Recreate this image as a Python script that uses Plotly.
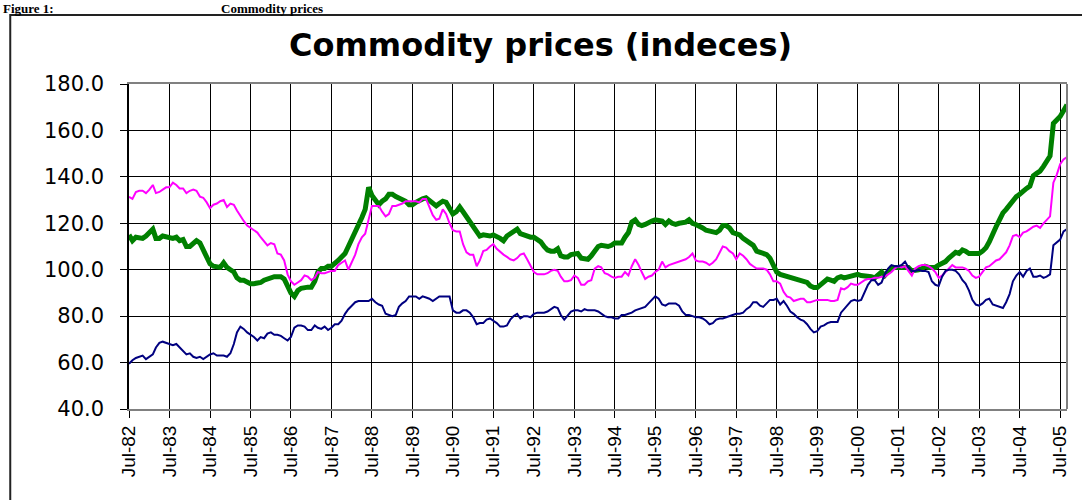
import plotly.graph_objects as go
import pandas as pd

# Monthly observations, July 1982 .. September 2005
months = pd.date_range("1982-07-01", periods=279, freq="MS")

green_index = [
    115, 112.5, 114, 113.5, 113.5, 114.5, 116, 117.5, 113.5, 113.5, 114.5, 114,
    113.5, 113.5, 114, 112.5, 113, 110, 110, 111, 112.5, 111.5, 108.5, 106,
    102.5, 101.5, 101, 101, 103, 101, 100, 99, 96.5, 95.5, 95.5, 94.5,
    94, 94, 94, 94.5, 95.5, 96, 97, 97, 97, 97, 96, 93,
    90, 88.5, 91, 92, 92.5, 92.5, 92.5, 95, 99, 100.5, 100.5, 101.5,
    101.5, 102.5, 104, 105.5, 107, 110, 113, 116, 119.5, 122.5, 126, 135.5,
    132, 129.5, 128, 129.5, 130.5, 132.5, 132.5, 131.5, 131, 130.5, 129.5, 128,
    128, 129, 130, 130.5, 131, 130, 129, 127.5, 128.5, 129.5, 129, 126,
    124, 125, 127, 125, 123, 120.5, 119, 116.5, 114.5, 115, 114.5, 114.5,
    115, 114.5, 113.5, 112.5, 114.5, 115.5, 116.5, 117.5, 115.5, 115, 114, 114,
    114, 113, 112, 110, 108.5, 108, 108, 109, 106, 105.5, 105.5, 106.5,
    107, 107, 105, 104.5, 104.5, 106, 108.5, 110, 110.5, 110, 110, 110.5,
    111.5, 111.5, 111.5, 114, 116, 120.5, 121.5, 119.5, 119, 119.5, 120.5, 121,
    121.5, 121.5, 121, 119.5, 121, 120, 119.5, 120, 120, 120.5, 121.5, 120,
    119.5, 119, 118, 117, 116.5, 116, 116, 117, 119, 119, 118, 116,
    115.5, 115, 113.5, 112.5, 111.5, 110.5, 108, 107.5, 107, 106.5, 105, 102,
    99, 98, 97.5, 97.5, 97, 96.5, 96, 95.5, 95, 94.5, 93, 92.3,
    92.3, 93.5, 94.5, 96, 95.5, 95, 96.5, 97, 96.5, 97, 97.5, 98,
    98, 97.5, 97.5, 97.5, 97, 96.5, 98, 99, 97.5, 99, 101, 101,
    101, 101, 101.5, 101, 99.5, 99.5, 100, 100.5, 101.5, 101, 101, 101,
    102, 102.5, 103.5, 105, 106.5, 107.5, 107, 108.5, 108, 107, 107, 107,
    107, 108, 109.5, 112, 116, 118.5, 121.5, 124.5, 126, 128, 130, 131.5,
    132.5, 134, 135, 136, 140.5, 141.5, 142.5, 144.5, 146.5, 149, 163, 164.5,
    166, 168.5, 171,
]

magenta_index = [
    131.4, 130.5, 133.5, 134, 134, 133, 134.5, 136.5, 133, 133.5, 134.5, 135.5,
    135.5, 137.5, 136.5, 135, 135, 133, 134, 134.5, 134, 131.5, 131, 129,
    126.5, 128, 128.5, 129.5, 130, 127, 128.5, 128, 125.5, 123, 121, 119,
    118, 117, 116, 114, 112, 110.5, 111.5, 111, 107, 106.5, 104, 98,
    95, 93.5, 94.5, 95.5, 97.5, 97, 95.5, 96.5, 99, 98.5, 98.5, 99,
    99.5, 99.5, 102, 103, 104, 100, 103.5, 106.5, 111, 114, 115.5, 121,
    127.5, 127.5, 127.5, 125, 123, 124, 127.5, 127.5, 128, 128.5, 129.5, 129.5,
    129.5, 129.5, 129, 130.5, 130.5, 127, 123.5, 121.5, 122, 126, 124, 120,
    117, 116.5, 116.5, 111, 107.5, 106.5, 106.5, 101.5, 104, 108, 108.5, 110,
    111, 109, 107.5, 106.5, 105.5, 104.5, 104, 105, 106.5, 107, 104.5, 102,
    99, 98, 98, 98, 98.5, 99.5, 100, 99.5, 97, 95, 95, 95.5,
    97.5, 96.5, 93.5, 93.5, 95, 95.5, 100.5, 101.5, 101, 98.5, 98, 97,
    96.5, 97, 97, 99, 97.5, 101.5, 104.5, 102, 99, 96, 97, 97.5,
    99, 100, 103.5, 101, 102, 102.5, 103, 103.5, 104, 104.5, 105.5, 107,
    104, 103.5, 103.5, 103, 102, 103, 104.5, 107.5, 110, 109.5, 108, 107,
    104.5, 107, 106, 104.5, 102.5, 101.5, 100.5, 100.5, 100.5, 100, 98, 95,
    95, 94, 90.5, 88.5, 88, 86.5, 87, 87.5, 87.5, 86, 86, 86.5,
    87, 87, 87, 87, 86.5, 86.5, 87, 92, 91.5, 92.5, 94, 93.5,
    93.5, 94.5, 95.5, 96, 96, 96.5, 96.5, 97, 97, 98, 99, 100.5,
    101.5, 101, 101.5, 99.5, 97.5, 100.5, 101.5, 102, 102, 101.5, 100.5, 99,
    96.5, 97.5, 99, 100.5, 102, 101, 101, 101, 100.5, 99.5, 97.5, 96.5,
    97, 99, 101, 101.5, 103, 104, 104.5, 106, 107.5, 110.5, 114.5, 115,
    114, 116, 116.5, 117.5, 118.5, 119, 118, 120, 121.5, 123, 137.5, 141,
    145.5, 147.5, 148.5,
]

navy_index = [
    59.5, 61, 62, 62.5, 63, 61.5, 62.5, 63.5, 66.5, 68.5, 69, 68.5,
    68, 67.5, 68, 66.5, 65, 63.5, 64, 62.5, 62, 62.5, 61.5, 62.5,
    63.5, 64, 63, 63, 63, 62.5, 64, 68, 73, 75.5, 74.5, 73,
    72, 71, 69.5, 71, 70.5, 72.5, 73, 72, 72, 71.5, 70.5, 69.5,
    71, 75, 76, 76, 75.5, 74, 74, 76, 75, 74.5, 75.5, 74,
    75, 76.5, 76.5, 78, 81, 83, 84.5, 86, 86.5, 86.5, 86.5, 86.5,
    87.5, 86, 85, 84.5, 81, 80.5, 80, 80.5, 84, 85.5, 86.5, 88.5,
    88.5, 88.5, 87.5, 88.5, 88, 87.5, 86.5, 87.5, 88.5, 88.5, 88.5, 88.5,
    82.5, 81.5, 81.5, 82.5, 82.5, 81.5, 79.5, 76.5, 77, 77, 78.5, 79,
    78, 77, 75.5, 75.5, 76, 78.5, 80, 81, 79, 80, 80, 79.5,
    81, 81.5, 81.5, 81.5, 82, 83, 84, 83.5, 80.5, 78.5, 80, 82,
    82.5, 82.5, 82, 83, 82.5, 82.5, 82.5, 82, 81, 80, 79.5, 79.5,
    79, 79, 80.5, 80.5, 81, 81.5, 82.5, 83, 83.5, 84, 85.5, 87,
    88.5, 87.5, 85, 84.5, 85.5, 85.5, 85.5, 84.5, 82, 80.5, 80.5, 80,
    79.5, 79.5, 79, 78, 76.5, 77, 78.5, 79, 79, 79.5, 80, 80.5,
    81, 81, 81.5, 83, 84, 86, 86, 84.5, 84, 85.5, 87, 87,
    87.5, 85, 86.5, 84.5, 82, 81, 79.5, 78.5, 78, 76.5, 74.5, 73,
    73.5, 75.5, 76, 77, 77.5, 77.5, 77.5, 81.5, 83, 84.5, 86.5, 87,
    86.5, 87, 90, 93.5, 95.5, 95.5, 93.5, 94.5, 98, 100.5, 102, 101.5,
    101.5, 102, 103.5, 101, 99.5, 99.5, 100, 99.5, 99.5, 99, 95, 93.5,
    93, 97, 99.5, 100, 100, 99.5, 98, 95.5, 94, 91, 87, 85,
    84.5, 85.5, 87, 87.5, 85, 84.5, 84, 83.5, 86, 89.5, 95, 97.5,
    99, 97, 99.5, 100.5, 97, 97, 97.5, 96.5, 97, 98, 110.5, 112,
    113, 116.5, 117.5,
]

tick_dates = pd.date_range("1982-07-01", periods=24, freq="12MS")
tick_labels = ["Jul-%02d" % (d.year % 100) for d in tick_dates]
y_ticks = [40, 60, 80, 100, 120, 140, 160, 180]

# pixel geometry of the plot area
W, H = 1082, 500
PL, PR, PT, PB = 129, 1069, 84, 409


def px_x(p):
    return (p - PL) / (PR - PL)


def px_y(p):
    return (PB - p) / (PB - PT)


fig = go.Figure()
fig.add_trace(go.Scatter(x=months, y=green_index, mode="lines",
                         line=dict(color="#008000", width=5), showlegend=False))
fig.add_trace(go.Scatter(x=months, y=magenta_index, mode="lines",
                         line=dict(color="#FF00FF", width=2), showlegend=False))
fig.add_trace(go.Scatter(x=months, y=navy_index, mode="lines",
                         line=dict(color="#000080", width=2), showlegend=False))

fig.update_layout(
    width=W, height=H, autosize=False,
    margin=dict(l=PL, r=W - PR, t=PT, b=H - PB, pad=0),
    paper_bgcolor="white", plot_bgcolor="white",
    showlegend=False,
    xaxis=dict(
        range=[months[0], months[-1]],
        tickmode="array", tickvals=tick_dates, ticktext=tick_labels,
        tickangle=-90, ticks="outside", ticklen=7, tickcolor="#000",
        tickfont=dict(family="Liberation Sans, Arial", size=19, color="#000"),
        showgrid=True, gridcolor="#000", gridwidth=1,
        showline=True, linecolor="#808080", linewidth=2, mirror=True,
        zeroline=False,
    ),
    yaxis=dict(
        range=[40, 180], tickmode="array", tickvals=y_ticks,
        tickformat=".1f", ticks="outside", ticklen=7, tickcolor="#000",
        ticklabelstandoff=12,
        tickfont=dict(family="DejaVu Sans", size=21, color="#000"),
        showgrid=True, gridcolor="#000", gridwidth=1,
        showline=True, linecolor="#000", linewidth=1.5,
        zeroline=False,
    ),
    shapes=[
        dict(type="line", xref="paper", yref="paper", x0=1, x1=1, y0=0, y1=1,
             line=dict(color="#808080", width=2)),
        dict(type="rect", xref="paper", yref="paper",
             x0=px_x(10), x1=px_x(1200), y0=px_y(15), y1=px_y(700),
             line=dict(color="#222", width=2), fillcolor="rgba(0,0,0,0)",
             layer="below"),
    ],
    annotations=[
        dict(text="<b>Commodity prices (indeces)</b>", xref="paper", yref="paper",
             x=px_x(541), y=px_y(45), xanchor="center", yanchor="middle",
             showarrow=False,
             font=dict(family="DejaVu Sans", size=32, color="#000")),
        dict(text="<b>Figure 1:</b>", xref="paper", yref="paper",
             x=px_x(2), y=px_y(0), xanchor="left", yanchor="top",
             showarrow=False, borderpad=0,
             font=dict(family="Liberation Serif", size=13, color="#000")),
        dict(text="<b>Commodity prices</b>", xref="paper", yref="paper",
             x=px_x(220), y=px_y(0), xanchor="left", yanchor="top",
             showarrow=False, borderpad=0,
             font=dict(family="Liberation Serif", size=13, color="#000")),
    ],
)

fig.write_html(
    "out.html",
    config={"displayModeBar": False},
    post_script="document.body.style.margin='0';document.body.style.padding='0';",
)
